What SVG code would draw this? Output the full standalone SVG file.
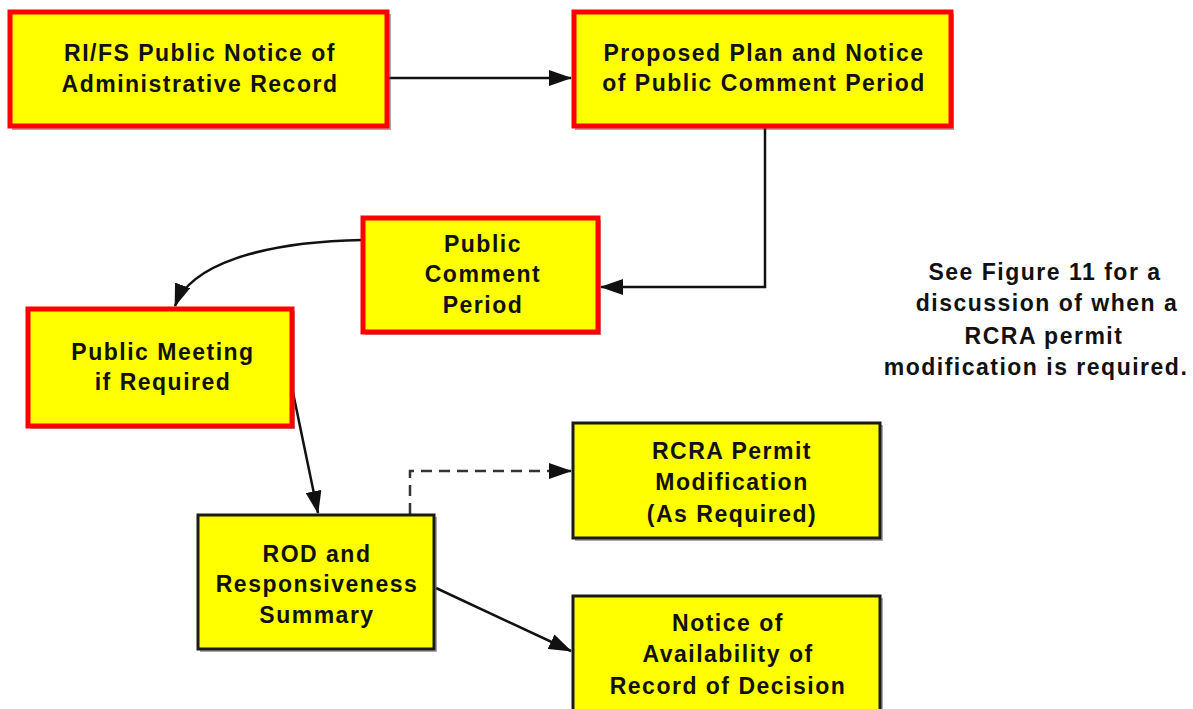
<svg xmlns="http://www.w3.org/2000/svg" width="1193" height="709" viewBox="0 0 1193 709">
<defs>
<style>
.red{fill:#ffff00;stroke:#ff0000;stroke-width:5}
.blk{fill:#ffff00;stroke:#1a1a1a;stroke-width:3}
.sh{fill:#555;opacity:0.5}
.t{font-family:"Liberation Sans",Arial,sans-serif;font-weight:bold;font-size:23px;letter-spacing:1.5px;fill:#111;text-anchor:middle}
.c{fill:none;stroke:#111;stroke-width:2.5}
.d{fill:none;stroke:#333;stroke-width:2.5;stroke-dasharray:11 7}
</style>
<marker id="ah2" markerWidth="23" markerHeight="16" refX="22" refY="8" orient="auto" markerUnits="userSpaceOnUse" viewBox="0 0 23 16">
<path d="M0,0 L23,8 L0,16 z" fill="#111"/>
</marker>
</defs>
<rect width="1193" height="709" fill="#fff"/>

<g id="connectors">
<path class="c" d="M389,78 L571,78" marker-end="url(#ah2)"/>
<path class="c" d="M765,128 L765,287 L601,287" marker-end="url(#ah2)"/>
<path class="c" d="M362,240 C260,242 190,265 175,306" marker-end="url(#ah2)"/>
<path class="c" d="M290,378 L318,513" marker-end="url(#ah2)"/>
<path class="d" d="M410,514 L410,471 L571,471" marker-end="url(#ah2)"/>
<path class="c" d="M436,588 L571,651" marker-end="url(#ah2)"/>
</g>

<g id="node-rifs">
<rect class="sh" x="12" y="14" width="379" height="116"/>
<rect class="red" x="10" y="12" width="377" height="114"/>
<text class="t" x="200" y="61">RI/FS Public Notice of</text>
<text class="t" x="200" y="92">Administrative Record</text>
</g>

<g id="node-proposed">
<rect class="sh" x="575" y="14" width="379" height="116"/>
<rect class="red" x="574" y="12" width="377" height="114"/>
<text class="t" x="764" y="61">Proposed Plan and Notice</text>
<text class="t" x="764" y="91">of Public Comment Period</text>
</g>

<g id="node-comment">
<rect class="sh" x="365" y="220" width="236" height="115"/>
<rect class="red" x="363" y="218" width="235" height="114"/>
<text class="t" x="483" y="252">Public</text>
<text class="t" x="483" y="282">Comment</text>
<text class="t" x="483" y="313">Period</text>
</g>

<g id="node-meeting">
<rect class="sh" x="30" y="311" width="265" height="118"/>
<rect class="red" x="28" y="309" width="264" height="117"/>
<text class="t" x="163" y="360">Public Meeting</text>
<text class="t" x="163" y="390">if Required</text>
</g>

<g id="node-rod">
<rect class="sh" x="200" y="517" width="237" height="135"/>
<rect class="blk" x="198" y="515" width="236" height="134"/>
<text class="t" x="317" y="562">ROD and</text>
<text class="t" x="317" y="592">Responsiveness</text>
<text class="t" x="317" y="623">Summary</text>
</g>

<g id="node-rcra">
<rect class="sh" x="575" y="425" width="308" height="116"/>
<rect class="blk" x="573" y="423" width="307" height="115"/>
<text class="t" x="732" y="459">RCRA Permit</text>
<text class="t" x="732" y="490">Modification</text>
<text class="t" x="732" y="522">(As Required)</text>
</g>

<g id="node-notice">
<rect class="sh" x="575" y="598" width="308" height="120"/>
<rect class="blk" x="573" y="596" width="307" height="120"/>
<text class="t" x="728" y="631">Notice of</text>
<text class="t" x="728" y="662">Availability of</text>
<text class="t" x="728" y="694">Record of Decision</text>
</g>

<g id="note">
<text class="t" x="1045" y="280">See Figure 11 for a</text>
<text class="t" x="1047" y="311">discussion of when a</text>
<text class="t" x="1044" y="344">RCRA permit</text>
<text class="t" x="1036" y="375">modification is required.</text>
</g>
</svg>
